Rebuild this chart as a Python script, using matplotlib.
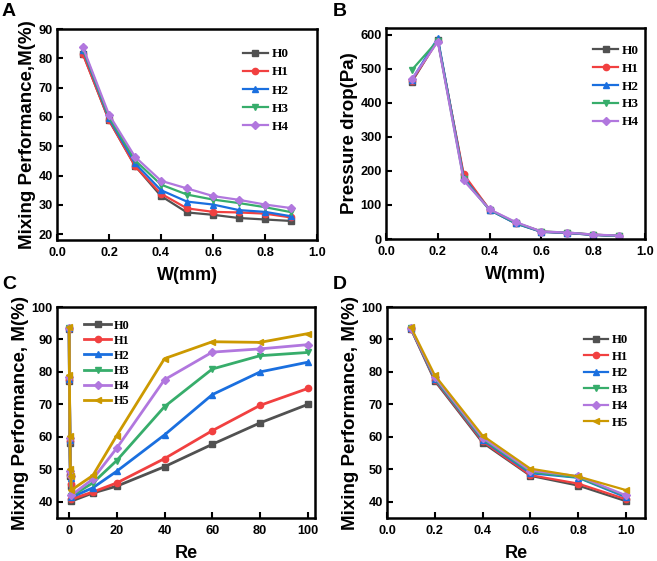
import matplotlib
matplotlib.use("Agg")
import matplotlib.pyplot as plt

# ---------------- data ----------------
w_mm = [0.1, 0.2, 0.3, 0.4, 0.5, 0.6, 0.7, 0.8, 0.9]
names_ab = ["H0", "H1", "H2", "H3", "H4"]
mix_a = {
    "H0": [81.5, 58.8, 43.3, 33.0, 27.4, 26.6, 25.5, 25.0, 24.5],
    "H1": [81.3, 58.9, 43.2, 33.8, 28.8, 27.6, 27.4, 27.0, 25.7],
    "H2": [82.8, 59.5, 44.2, 35.0, 31.1, 30.1, 28.2, 27.6, 26.1],
    "H3": [83.2, 60.0, 45.2, 36.9, 33.5, 31.8, 30.6, 29.2, 27.5],
    "H4": [83.7, 60.8, 46.4, 38.2, 35.6, 33.0, 31.7, 30.1, 28.9],
}
dp_b = {
    "H0": [462, 585, 185, 86, 46, 21, 18, 12, 9],
    "H1": [465, 583, 190, 86, 48, 22, 18, 13, 9],
    "H2": [468, 590, 180, 85, 46, 21, 18, 12, 9],
    "H3": [497, 583, 175, 86, 48, 22, 19, 13, 9],
    "H4": [470, 580, 172, 87, 50, 22, 19, 13, 10],
}
re_low = [0.1, 0.2, 0.4, 0.6, 0.8, 1.0]
re_high = [10, 20, 40, 60, 80, 100]
names_cd = ["H0", "H1", "H2", "H3", "H4", "H5"]
mix_low = {
    "H0": [93.2, 77.2, 58.2, 48.0, 45.0, 40.2],
    "H1": [93.3, 77.5, 58.6, 48.2, 45.6, 40.8],
    "H2": [93.4, 77.8, 59.0, 48.8, 47.4, 41.4],
    "H3": [93.5, 78.0, 59.3, 49.2, 47.5, 41.8],
    "H4": [93.4, 78.4, 59.7, 49.6, 47.9, 42.0],
    "H5": [93.8, 79.0, 60.4, 50.2, 47.8, 43.6],
}
mix_high = {
    "H0": [42.7, 44.8, 50.8, 57.7, 64.3, 70.0],
    "H1": [43.0, 45.8, 53.3, 61.9, 69.7, 74.9],
    "H2": [44.3, 49.4, 60.6, 73.0, 80.0, 83.0],
    "H3": [45.8, 52.7, 69.3, 80.9, 85.0, 86.0],
    "H4": [47.0, 56.5, 77.6, 86.1, 87.1, 88.4],
    "H5": [48.1, 60.4, 84.1, 89.3, 89.1, 91.8],
}

colors = {"H0": "#515151", "H1": "#F14040", "H2": "#1A6FDF",
          "H3": "#37AD6B", "H4": "#B177DE", "H5": "#CC9900"}
markers = {"H0": "s", "H1": "o", "H2": "^", "H3": "v", "H4": "D", "H5": "<"}
msize = {"H0": 4, "H1": 4.5, "H2": 4.5, "H3": 4.5, "H4": 3.8, "H5": 4.5}

plt.rcParams['font.family'] = ['Liberation Sans', 'DejaVu Sans']

fig = plt.figure(figsize=(6.57, 5.61), dpi=100)
W, H = 657, 561

def add_ax(l, t, r, b):
    return fig.add_axes([l / W, (H - b) / H, (r - l) / W, (b - t) / H])

axA = add_ax(57, 29, 317, 240)
axB = add_ax(386, 28, 645, 239)
axC = add_ax(57, 307, 315, 518)
axD = add_ax(387, 307, 645, 518)

def leg_font(size):
    return {'family': 'Liberation Serif', 'weight': 'bold', 'size': size}

def style(ax, xlabel, ylabel):
    for s in ax.spines.values():
        s.set_linewidth(1.8)
    ax.tick_params(direction='in', length=4, width=1.5, labelsize=9.2)
    ax.tick_params(axis='x', pad=5)
    ax.tick_params(axis='y', pad=3)
    for lab in ax.get_xticklabels() + ax.get_yticklabels():
        lab.set_fontweight('bold')
    ax.set_xlabel(xlabel, fontsize=13, fontweight='bold', labelpad=6)
    ax.set_ylabel(ylabel, fontsize=13.5, fontweight='bold', labelpad=2)

def plot_line(ax, x, y, n, lw=1.6):
    ax.plot(x, y, color=colors[n], marker=markers[n], markersize=msize[n],
            linewidth=lw, label=n)

def legend(ax, x, y, size, spacing, hl):
    ax.legend(loc='upper left', bbox_to_anchor=(x, y), frameon=False,
              prop=leg_font(size), handlelength=hl, handletextpad=0.25,
              labelspacing=spacing, borderpad=0, borderaxespad=0)

# A
for n in names_ab:
    plot_line(axA, w_mm, mix_a[n], n)
axA.set_xlim(0, 1.0)
axA.set_ylim(18, 90)
axA.set_xticks([0.0, 0.2, 0.4, 0.6, 0.8, 1.0])
axA.set_yticks([20, 30, 40, 50, 60, 70, 80, 90])
style(axA, "W(mm)", "Mixing Performance,M(%)")
legend(axA, 0.715, 0.91, 9.5, 0.45, 1.9)

# B
for n in names_ab:
    plot_line(axB, w_mm, dp_b[n], n)
axB.set_xlim(0, 1.0)
axB.set_ylim(0, 620)
axB.set_xticks([0.0, 0.2, 0.4, 0.6, 0.8, 1.0])
axB.set_yticks([0, 100, 200, 300, 400, 500, 600])
style(axB, "W(mm)", "Pressure drop(Pa)")
legend(axB, 0.80, 0.92, 9.5, 0.42, 1.9)

# C
for n in names_cd:
    plot_line(axC, re_low + re_high, mix_low[n] + mix_high[n], n, lw=2.0)
axC.set_xlim(-5, 103)
axC.set_ylim(35, 100)
axC.set_xticks([0, 20, 40, 60, 80, 100])
axC.set_yticks([40, 50, 60, 70, 80, 90, 100])
style(axC, "Re", "Mixing Performance, M(%)")
legend(axC, 0.105, 0.94, 8.8, 0.25, 2.2)

# D
for n in names_cd:
    plot_line(axD, re_low, mix_low[n], n)
axD.set_xlim(0, 1.08)
axD.set_ylim(35, 100)
axD.set_xticks([0.0, 0.2, 0.4, 0.6, 0.8, 1.0])
axD.set_yticks([40, 50, 60, 70, 80, 90, 100])
style(axD, "Re", "Mixing Performance, M(%)")
legend(axD, 0.764, 0.87, 9.2, 0.35, 1.9)

for lab, (x, y) in zip("ABCD", [(2, 3), (333, 3), (2, 276), (333, 276)]):
    fig.text(x / W, 1 - y / H, lab, fontsize=14, fontweight='bold',
             ha='left', va='top')

fig.savefig("out.png", dpi=100)
